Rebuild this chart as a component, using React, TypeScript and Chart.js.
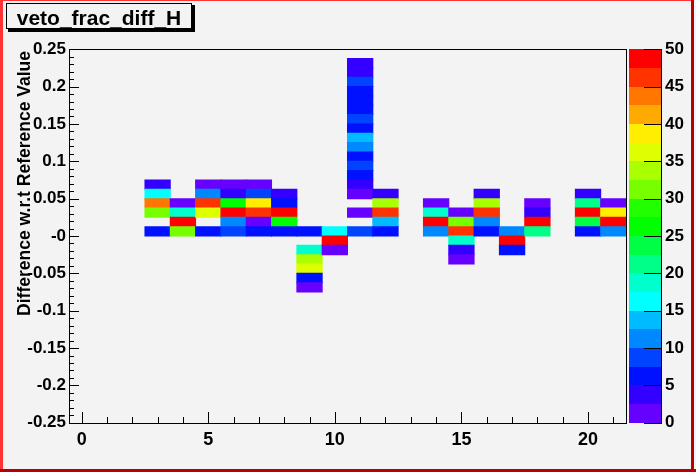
import React, { useEffect, useRef } from "react";
import { Chart, registerables } from "chart.js";

Chart.register(...registerables);

// ---------- text ----------
const histTitle = "veto_frac_diff_H";
const yAxisTitle = "Difference w.r.t Reference Value";

// ---------- axes ----------
const xRange = [-0.5, 21.5];
const yRange = [-0.25, 0.25];
const zRange = [0, 50];
const yBinWidth = 0.0125;
const xMinorStep = 1;
const yMinorStep = 0.01;

const xTickValues = [0, 5, 10, 15, 20];
const xTickLabels = ["0", "5", "10", "15", "20"];
const yTickValues = [0.25, 0.2, 0.15, 0.1, 0.05, 0, -0.05, -0.1, -0.15, -0.2, -0.25];
const yTickLabels = ["0.25", "0.2", "0.15", "0.1", "0.05", "-0", "-0.05", "-0.1", "-0.15", "-0.2", "-0.25"];
const zTickValues = [0, 5, 10, 15, 20, 25, 30, 35, 40, 45, 50];
const zTickLabels = ["0", "5", "10", "15", "20", "25", "30", "35", "40", "45", "50"];

// 20-level palette, low -> high
const paletteColors = [
  "#6600FF", "#3300FF", "#0011FF", "#0044FF", "#0088FF",
  "#00BBFF", "#00FFFF", "#00FFCC", "#00FF88", "#00FF44",
  "#00FF00", "#22FF00", "#77FF00", "#AAFF00", "#DDFF00",
  "#FFEE00", "#FFAA00", "#FF7700", "#FF3300", "#FF0000",
];

// ---------- cells (bin x centre, bin y lower edge, content) ----------
const cellX = [
  3, 3, 3, 3, 3,
  4, 4, 4, 4,
  5, 5, 5, 5, 5,
  6, 6, 6, 6, 6, 6,
  7, 7, 7, 7, 7, 7,
  8, 8, 8, 8, 8,
  9, 9, 9, 9, 9, 9,
  10, 10, 10,
  11, 11, 11, 11, 11, 11, 11, 11, 11, 11, 11, 11, 11, 11, 11, 11, 11,
  12, 12, 12, 12, 12,
  14, 14, 14, 14,
  15, 15, 15, 15, 15, 15,
  16, 16, 16, 16, 16,
  17, 17, 17,
  18, 18, 18, 18,
  20, 20, 20, 20, 20,
  21, 21, 21, 21,
];
const cellYLow = [
  0.0625, 0.05, 0.0375, 0.025, 0,
  0.0375, 0.025, 0.0125, 0,
  0.0625, 0.05, 0.0375, 0.025, 0,
  0.0625, 0.05, 0.0375, 0.025, 0.0125, 0,
  0.0625, 0.05, 0.0375, 0.025, 0.0125, 0,
  0.05, 0.0375, 0.025, 0.0125, 0,
  0, -0.025, -0.0375, -0.05, -0.0625, -0.075,
  0, -0.0125, -0.025,
  0.225, 0.2125, 0.2, 0.1875, 0.175, 0.1625, 0.15, 0.1375, 0.125, 0.1125, 0.1, 0.0875, 0.075, 0.0625, 0.05, 0.025, 0,
  0.05, 0.0375, 0.025, 0.0125, 0,
  0.0375, 0.025, 0.0125, 0,
  0.025, 0.0125, 0, -0.0125, -0.025, -0.0375,
  0.05, 0.0375, 0.025, 0.0125, 0,
  0, -0.0125, -0.025,
  0.0375, 0.025, 0.0125, 0,
  0.05, 0.0375, 0.025, 0.0125, 0,
  0.0375, 0.025, 0.0125, 0,
];
const cellZ = [
  4, 16, 44, 31, 6,
  1, 19, 49, 31,
  1, 11, 46, 36, 6,
  1, 4, 26, 49, 11, 9,
  1, 9, 39, 46, 1, 6,
  4, 6, 49, 26, 6,
  6, 19, 34, 36, 6, 1,
  16, 49, 1,
  4, 4, 9, 6, 6, 6, 9, 6, 14, 11, 6, 9, 6, 4, 1, 1, 9,
  4, 34, 46, 14, 6,
  1, 19, 49, 11,
  1, 31, 46, 19, 4, 1,
  4, 34, 46, 11, 6,
  11, 49, 6,
  1, 4, 49, 21,
  4, 21, 49, 24, 6,
  1, 39, 49, 11,
];

const FONT_FAMILY = '"Liberation Sans", Arial, Helvetica, sans-serif';
const BG = "#F3F3F3";

function colorFor(z: number): string {
  const n = paletteColors.length;
  const step = (zRange[1] - zRange[0]) / n;
  const idx = Math.max(0, Math.min(n - 1, Math.floor((z - zRange[0]) / step)));
  return paletteColors[idx];
}

function labelFor(values: number[], labels: string[], v: number): string {
  const i = values.findIndex((t) => Math.abs(t - v) < 1e-9);
  return i >= 0 ? labels[i] : "";
}

export default function App() {
  const ref = useRef<HTMLCanvasElement>(null);

  useEffect(() => {
    document.body.style.margin = "0";
    const canvas = ref.current;
    if (!canvas) return;

    const data = cellX.map((x, i) => ({
      x,
      y: [cellYLow[i], cellYLow[i] + yBinWidth],
      z: cellZ[i],
    }));

    const tickFont = { family: FONT_FAMILY, size: 17, weight: "bold" as const };
    const xTickFont = { family: FONT_FAMILY, size: 18, weight: "bold" as const };

    const decor = {
      id: "rootDecor",
      beforeDraw(chart: any) {
        const ctx = chart.ctx;
        ctx.save();
        ctx.fillStyle = BG;
        ctx.fillRect(0, 0, chart.width, chart.height);
        ctx.restore();
      },
      afterDraw(chart: any) {
        const ctx = chart.ctx as CanvasRenderingContext2D;
        const { left, right, top, bottom } = chart.chartArea;
        const xs = chart.scales.x;
        const ys = chart.scales.y;
        const zs = chart.scales.z;
        const L = Math.round(left), R = Math.round(right), T = Math.round(top), B = Math.round(bottom);
        ctx.save();
        ctx.fillStyle = "#000";
        // frame
        ctx.fillRect(L, T, R - L + 1, 1);
        ctx.fillRect(L, B, R - L + 1, 1);
        ctx.fillRect(L, T, 1, B - T + 1);
        ctx.fillRect(R, T, 1, B - T + 1);
        // x ticks
        for (let v = Math.ceil(xRange[0]); v <= xRange[1]; v += xMinorStep) {
          const px = Math.round(xs.getPixelForValue(v));
          const major = xTickValues.some((t) => Math.abs(t - v) < 1e-9);
          const len = major ? 11 : 6;
          ctx.fillRect(px, B - len, 1, len);
        }
        // y ticks
        const nMinor = Math.round((yRange[1] - yRange[0]) / yMinorStep);
        for (let i = 0; i <= nMinor; i++) {
          const v = yRange[0] + i * yMinorStep;
          const py = Math.round(ys.getPixelForValue(v));
          const major = yTickValues.some((t) => Math.abs(t - v) < 1e-6);
          const len = major ? 10 : 5;
          ctx.fillRect(L, py, len, 1);
        }
        // colour bar
        const barL = Math.round(zs.left) + 3;
        const barR = barL + 32;
        const n = paletteColors.length;
        const step = (zRange[1] - zRange[0]) / n;
        for (let i = 0; i < n; i++) {
          const y0 = Math.round(zs.getPixelForValue(zRange[0] + (i + 1) * step));
          const y1 = Math.round(zs.getPixelForValue(zRange[0] + i * step));
          ctx.fillStyle = paletteColors[i];
          ctx.fillRect(barL, y0, barR - barL, y1 - y0);
        }
        ctx.fillStyle = "#000";
        const zT = Math.round(zs.getPixelForValue(zRange[1]));
        const zB = Math.round(zs.getPixelForValue(zRange[0]));
        ctx.fillRect(barR, zT, 1, zB - zT + 1);
        for (const v of zTickValues) {
          const py = Math.round(zs.getPixelForValue(v));
          ctx.fillRect(barR - 17, py, 17, 1);
        }
        // title box
        const bx = 6, by = 3, bw = 186, bh = 26;
        ctx.fillStyle = "#000";
        ctx.fillRect(bx + 2, by + 2, bw + 1, bh + 1);
        ctx.fillStyle = BG;
        ctx.fillRect(bx, by, bw, bh);
        ctx.strokeStyle = "#000";
        ctx.lineWidth = 1;
        ctx.strokeRect(bx + 0.5, by + 0.5, bw - 1, bh - 1);
        ctx.fillStyle = "#000";
        ctx.font = `bold 21px ${FONT_FAMILY}`;
        ctx.textAlign = "center";
        ctx.textBaseline = "alphabetic";
        ctx.fillText(histTitle, bx + bw / 2, 25);
        // y title
        ctx.save();
        ctx.translate(30, T + 2);
        ctx.rotate(-Math.PI / 2);
        ctx.font = `bold 17.5px ${FONT_FAMILY}`;
        ctx.textAlign = "right";
        ctx.fillText(yAxisTitle, 0, 0);
        ctx.restore();
        // canvas border
        ctx.fillStyle = "#FF3333";
        ctx.fillRect(0, 0, 694, 1);
        ctx.fillRect(0, 0, 3, 472);
        ctx.fillStyle = "#B80000";
        ctx.fillRect(691, 0, 3, 472);
        ctx.fillRect(0, 469, 696, 3);
        ctx.restore();
      },
    };

    const chart = new Chart(canvas, {
      type: "bar",
      data: {
        datasets: [
          {
            data: data as any,
            backgroundColor: (c: any) => colorFor(c.raw ? c.raw.z : 0),
            borderWidth: 0,
            barPercentage: 1,
            categoryPercentage: 1,
            inflateAmount: 0.5,
          } as any,
        ],
      },
      options: {
        responsive: false,
        animation: false,
        devicePixelRatio: 1,
        layout: { padding: { left: 0, right: 0, top: 48, bottom: 0 } },
        plugins: {
          legend: { display: false },
          tooltip: { enabled: false },
          title: { display: false },
        },
        scales: {
          x: {
            type: "linear",
            offset: false,
            min: xRange[0],
            max: xRange[1],
            afterFit(s: any) { s.height = 48; },
            afterBuildTicks(s: any) { s.ticks = xTickValues.map((v) => ({ value: v })); },
            ticks: {
              callback: (v: any) => labelFor(xTickValues, xTickLabels, Number(v)),
              font: xTickFont,
              color: "#000",
              padding: 6,
              maxRotation: 0,
              autoSkip: false,
            },
            grid: { display: false, drawTicks: false, offset: false },
            border: { display: false },
          },
          y: {
            type: "linear",
            min: yRange[0],
            max: yRange[1],
            afterFit(s: any) { s.width = 69; },
            afterBuildTicks(s: any) { s.ticks = yTickValues.map((v) => ({ value: v })); },
            ticks: {
              callback: (v: any) => labelFor(yTickValues, yTickLabels, Number(v)),
              font: tickFont,
              color: "#000",
              padding: 3,
              autoSkip: false,
            },
            grid: { display: false, drawTicks: false },
            border: { display: false },
          },
          z: {
            type: "linear",
            position: "right",
            min: zRange[0],
            max: zRange[1],
            afterFit(s: any) { s.width = 70; },
            afterBuildTicks(s: any) { s.ticks = zTickValues.map((v) => ({ value: v })); },
            ticks: {
              callback: (v: any) => labelFor(zTickValues, zTickLabels, Number(v)),
              font: tickFont,
              color: "#000",
              padding: 39,
              autoSkip: false,
            },
            grid: { display: false, drawTicks: false },
            border: { display: false },
          },
        },
      } as any,
      plugins: [decor],
    });

    return () => chart.destroy();
  }, []);

  return <canvas ref={ref} width={696} height={472} style={{ display: "block" }} />;
}
